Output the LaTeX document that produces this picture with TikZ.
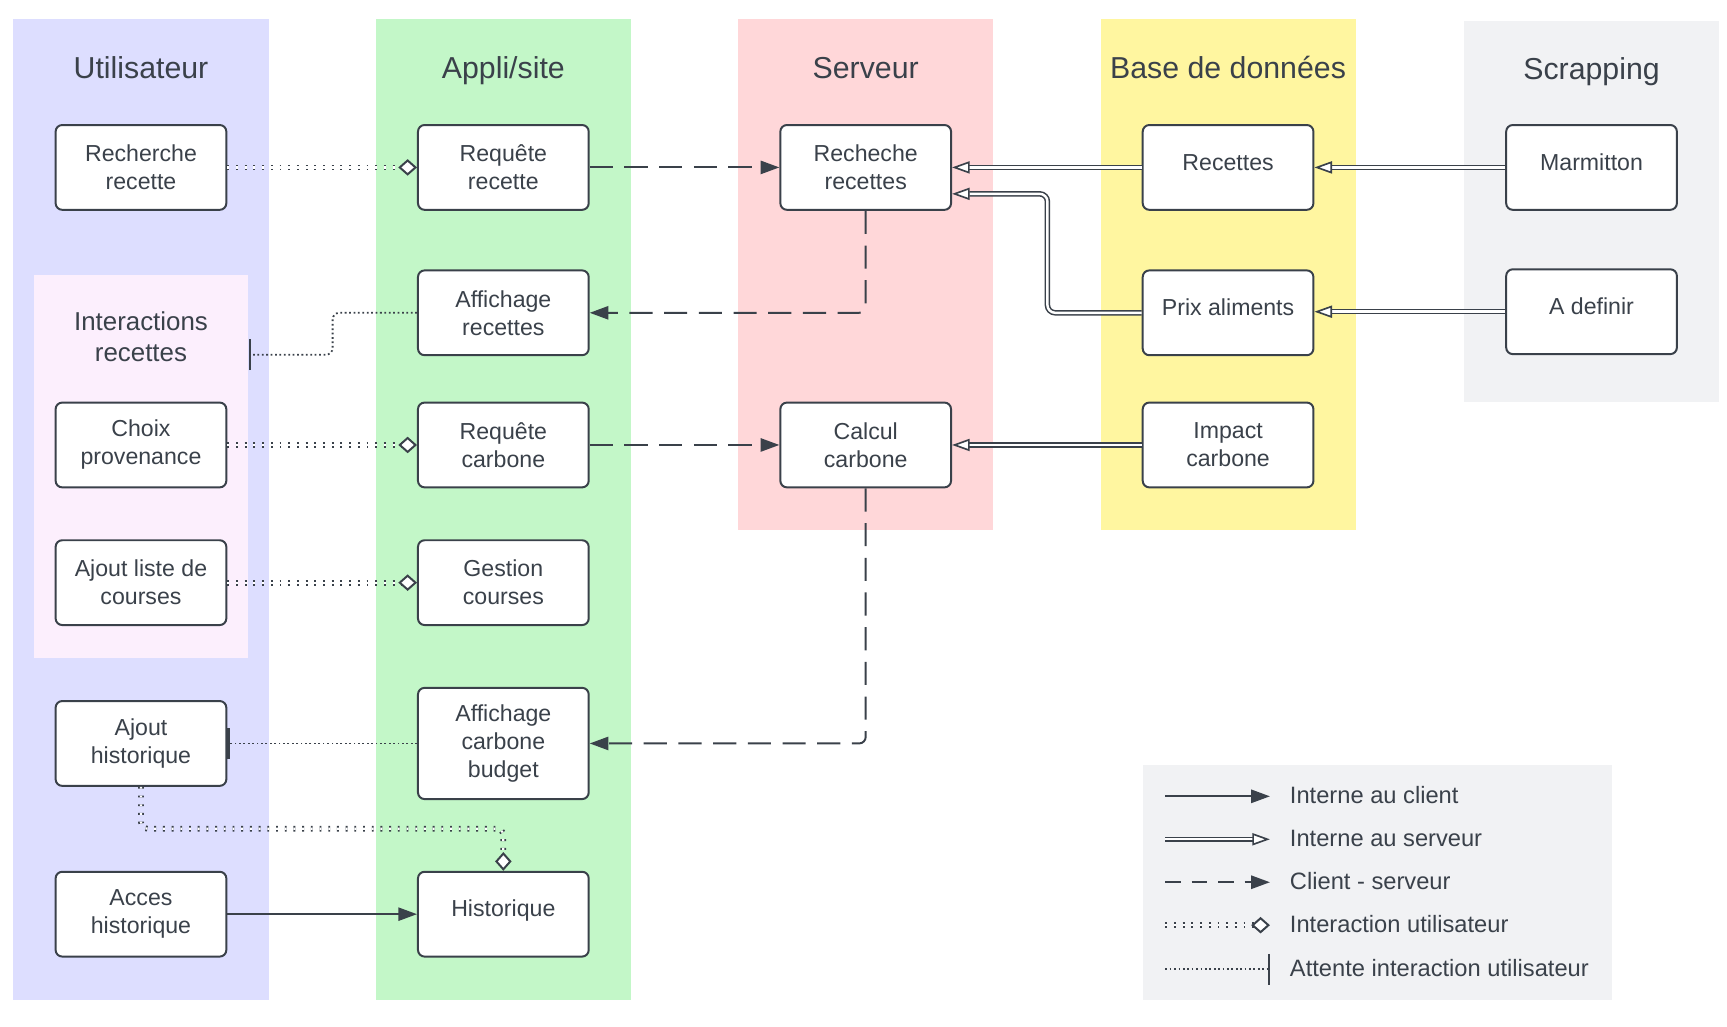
\documentclass[tikz,border=0pt]{standalone}
\usepackage{fontspec}
\setmainfont{Liberation Sans}
\usetikzlibrary{arrows.meta,calc}
\definecolor{ink}{RGB}{58,65,74}
\definecolor{laneU}{RGB}{221,222,255}
\definecolor{laneA}{RGB}{195,247,200}
\definecolor{laneS}{RGB}{255,215,217}
\definecolor{laneB}{RGB}{255,246,160}
\definecolor{laneX}{RGB}{241,242,244}
\definecolor{laneI}{RGB}{252,239,253}
\begin{document}
\begin{tikzpicture}[x=1pt,y=-1pt,
 box/.style={draw=ink, line width=1.8pt, fill=white, rounded corners=6pt, minimum width=155pt, minimum height=77pt, inner sep=0pt, align=center, font=\fontsize{21}{25.5}\selectfont, text=ink},
 one/.style={text height=15pt, text depth=10pt},
 lanetitle/.style={font=\fontsize{27.5}{33}\selectfont, text=ink, anchor=base},
 legtext/.style={font=\fontsize{21.5}{26}\selectfont, text=ink, anchor=west, inner sep=0pt},
 cs/.style={draw=ink, line width=1.8pt, dash pattern=on 21pt off 10.5pt, -{Triangle[length=17pt,width=12pt]}, rounded corners=6pt},
 ic/.style={draw=ink, line width=1.8pt, -{Triangle[length=17pt,width=12pt]}},
 is/.style={draw=ink, line width=1.4pt, double=white, double distance=2.2pt, -{Triangle[open,fill=white,length=16pt,width=11pt,line width=1.5pt]}, rounded corners=7pt},
 iu/.style={draw=ink, line width=1.6pt, double=white, double distance=2pt, dash pattern=on 1.7pt off 6.2pt, -{Diamond[open,fill=white,length=17pt,width=15pt,line width=1.8pt]}, rounded corners=6pt},
 wa/.style={draw=ink, line width=1.6pt, dash pattern=on 1.6pt off 2.4pt, -{Bar[width=28pt,line width=2.2pt]}, rounded corners=6pt},
]
\useasboundingbox (0,0) rectangle (1568,932);
% lanes
\fill[laneU] (12,17) rectangle (244,908);
\fill[laneA] (341,17) rectangle (573,908);
\fill[laneS] (670,17) rectangle (902,481);
\fill[laneB] (1000,17) rectangle (1231,481);
\fill[laneX] (1329,19) rectangle (1561,365);
\fill[laneI] (31,250) rectangle (225,597);
\fill[laneX] (1038,695) rectangle (1464,908);
% titles
\node[lanetitle] (tU) at (128,71) {Utilisateur};
\node[lanetitle] (tA) at (457,71) {Appli/site};
\node[lanetitle] (tS) at (786,71) {Serveur};
\node[lanetitle] (tB) at (1115,71) {Base de données};
\node[lanetitle] (tX) at (1445,72) {Scrapping};
\node[font=\fontsize{23.5}{28}\selectfont, text=ink, align=center] (tI) at (128,306) {Interactions\\recettes};
% boxes
\node[box] (rr) at (128,152) {Recherche\\recette};
\node[box] (qr) at (457,152) {Requête\\recette};
\node[box] (rs) at (786,152) {Recheche\\recettes};
\node[box, one] (rc) at (1115,152) {Recettes};
\node[box, one] (mm) at (1445,152) {Marmitton};
\node[box] (ar) at (457,284) {Affichage\\recettes};
\node[box, one] (pa) at (1115,284) {Prix aliments};
\node[box, one] (ad) at (1445,283) {A definir};
\node[box] (cp) at (128,404) {Choix\\provenance};
\node[box] (qc) at (457,404) {Requête\\carbone};
\node[box] (cc) at (786,404) {Calcul\\carbone};
\node[box] (ic) at (1115,404) {Impact\\carbone};
\node[box] (al) at (128,529) {Ajout liste de\\courses};
\node[box] (gc) at (457,529) {Gestion\\courses};
\node[box] (ah) at (128,675) {Ajout\\historique};
\node[box, minimum height=101pt] (acb) at (457,675) {Affichage\\carbone\\budget};
\node[box] (ach) at (128,830) {Acces\\historique};
\node[box, one] (hi) at (457,830) {Historique};
% connectors
\draw[iu] (rr.east) -- (qr.west);
\draw[cs] (qr.east) -- (rs.west);
\draw[is] (rc.west) -- (rs.east);
\draw[is] (mm.west) -- (rc.east);
\draw[is] (pa.west) -- (951,284) -- (951,176) -- ($(rs.east)+(0,24)$);
\draw[is] (ad.west) -- (ad.west -| pa.east);
\draw[cs] (rs.south) |- (ar.east);
\coordinate (irbar) at (226,322);
\draw[wa] (ar.west) -- (302,284) -- (302,322) -- (irbar);
\draw[iu] (cp.east) -- (qc.west);
\draw[cs] (qc.east) -- (cc.west);
\draw[is] (ic.west) -- (cc.east);
\draw[iu] (al.east) -- (gc.west);
\draw[cs] (cc.south) |- (acb.east);
\draw[wa] (acb.west) -- (ah.east);
\draw[iu] (ah.south) -- ($(ah.south)+(0,38)$) -| (hi.north);
\draw[ic] (ach.east) -- (hi.west);
% legend
\coordinate (l1a) at (1058,723); \coordinate (l1b) at (1153,723);
\coordinate (l2a) at (1058,762); \coordinate (l2b) at (1153,762);
\coordinate (l3a) at (1058,801); \coordinate (l3b) at (1153,801);
\coordinate (l4a) at (1058,840); \coordinate (l4b) at (1153,840);
\coordinate (l5a) at (1058,880); \coordinate (l5b) at (1153,880);
\draw[ic] (l1a) -- (l1b);
\draw[is] (l2a) -- (l2b);
\draw[cs, dash pattern=on 14pt off 10pt] (l3a) -- (l3b);
\draw[iu] (l4a) -- (l4b);
\draw[wa] (l5a) -- (l5b);
\node[legtext] (g1) at (1171,722) {Interne au client};
\node[legtext] (g2) at (1171,761) {Interne au serveur};
\node[legtext] (g3) at (1171,800) {Client - serveur};
\node[legtext] (g4) at (1171,839) {Interaction utilisateur};
\node[legtext] (g5) at (1171,879) {Attente interaction utilisateur};
\end{tikzpicture}
\end{document}
